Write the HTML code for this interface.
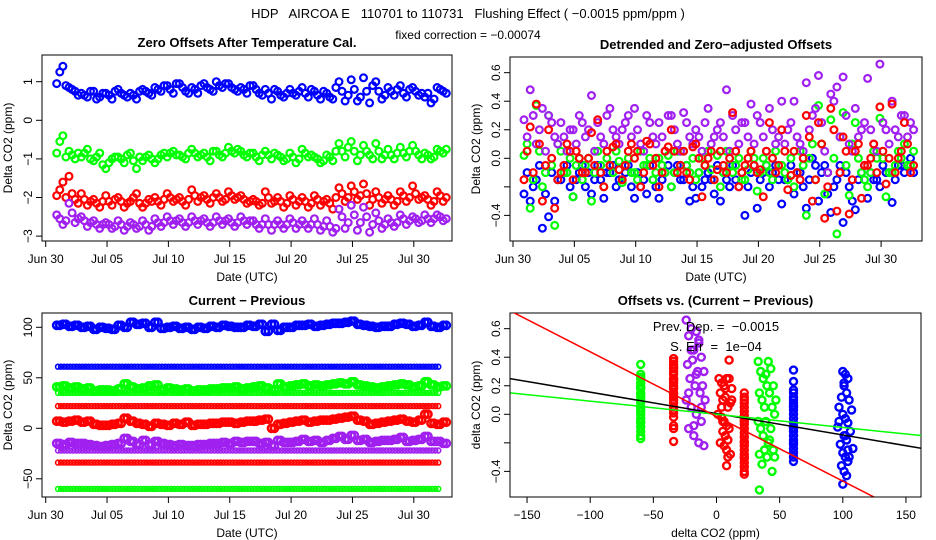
<!DOCTYPE html>
<html><head><meta charset="utf-8"><style>
html,body{margin:0;padding:0;background:#fff}
svg{display:block;font-family:"Liberation Sans",sans-serif}
</style></head><body>
<svg id="c" width="936" height="540" viewBox="0 0 936 540" xmlns="http://www.w3.org/2000/svg">
<text x="468" y="18" text-anchor="middle" font-size="13" style="white-space:pre">HDP   AIRCOA E   110701 to 110731   Flushing Effect ( −0.0015 ppm/ppm )</text>
<text x="468" y="39" text-anchor="middle" font-size="12">fixed correction = −0.00074</text>
</svg>
<script>
// ---- data: top-left (2 samples per day, days 1..32), plus a second pass ----
const blueTL=[0.95,1.40,0.85,0.75,0.70,0.60,0.75,0.60,0.70,0.55,0.80,0.65,0.70,0.55,0.80,0.70,0.85,0.75,0.90,0.70,0.95,0.75,0.85,0.70,0.95,0.80,1.00,0.85,0.95,0.80,0.85,0.70,0.90,0.70,0.80,0.55,0.75,0.60,0.80,0.65,0.85,0.60,0.75,0.55,0.70,0.55,1.00,0.50,1.05,0.50,1.10,0.45,1.00,0.55,0.85,0.65,0.90,0.60,0.85,0.65,0.60,0.45,0.85,0.75];
const blueTL2=[1.25,0.90,0.80,0.65,0.65,0.75,0.55,0.70,0.65,0.75,0.70,0.60,0.65,0.75,0.75,0.65,0.80,0.90,0.80,0.95,0.85,0.70,0.80,0.90,0.85,0.75,0.90,0.95,0.85,0.75,0.80,0.90,0.80,0.65,0.70,0.80,0.65,0.70,0.70,0.75,0.70,0.80,0.65,0.75,0.60,0.85,0.75,0.65,0.80,0.60,0.75,0.90,0.75,0.65,0.75,0.80,0.70,0.80,0.75,0.70,0.70,0.55,0.80,0.70];
const greenTL=[-0.85,-0.40,-0.80,-1.00,-0.95,-0.75,-1.05,-0.85,-1.25,-1.00,-0.95,-1.10,-0.85,-1.25,-1.05,-0.90,-1.10,-0.90,-0.95,-0.80,-0.90,-1.00,-0.75,-0.95,-0.85,-1.05,-0.80,-0.95,-0.70,-0.85,-0.80,-0.95,-0.85,-1.05,-0.80,-1.00,-0.90,-1.05,-0.85,-1.10,-0.75,-0.95,-0.95,-1.10,-0.90,-1.05,-0.60,-0.95,-0.55,-1.05,-0.65,-0.90,-0.60,-1.00,-0.75,-1.00,-0.70,-0.95,-0.65,-0.90,-0.85,-1.00,-0.75,-0.85];
const greenTL2=[-0.55,-0.95,-0.90,-0.85,-0.85,-1.00,-0.95,-1.15,-1.10,-0.95,-1.00,-0.90,-1.05,-0.95,-0.95,-1.00,-1.00,-0.85,-0.85,-0.90,-0.95,-0.85,-0.85,-0.90,-0.95,-0.80,-0.90,-0.85,-0.80,-0.75,-0.90,-0.85,-0.95,-0.90,-0.90,-0.85,-0.95,-1.00,-0.95,-1.00,-0.85,-0.90,-1.00,-1.05,-0.95,-0.80,-0.80,-0.70,-0.80,-0.90,-0.80,-1.00,-0.80,-0.90,-0.90,-0.85,-0.85,-0.80,-0.80,-1.00,-0.90,-0.95,-0.80,-0.75];
const redTL=[-1.95,-1.60,-1.45,-2.05,-1.90,-2.20,-2.05,-2.25,-1.95,-2.20,-2.00,-2.25,-2.10,-1.90,-2.25,-2.05,-2.00,-2.20,-1.90,-2.10,-2.00,-2.20,-1.80,-2.10,-1.95,-2.15,-1.90,-2.10,-1.85,-2.05,-1.95,-2.15,-2.05,-2.20,-1.85,-2.15,-2.00,-2.25,-1.95,-2.20,-2.00,-2.25,-1.95,-2.20,-2.05,-2.30,-1.75,-2.10,-1.70,-2.05,-1.65,-2.20,-1.85,-2.15,-1.95,-2.20,-1.85,-2.10,-1.70,-2.05,-1.95,-2.20,-1.85,-2.10];
const redTL2=[-1.80,-2.00,-1.90,-2.15,-2.05,-2.10,-2.15,-2.10,-2.10,-2.05,-2.10,-2.15,-2.00,-2.15,-2.15,-2.10,-2.10,-2.05,-2.00,-2.05,-2.10,-2.05,-1.95,-2.00,-2.05,-2.00,-2.00,-2.05,-1.95,-2.00,-2.05,-2.10,-2.10,-2.15,-2.00,-2.10,-2.10,-2.15,-2.05,-2.10,-2.10,-2.15,-2.05,-2.10,-2.15,-2.00,-1.90,-2.00,-1.85,-1.95,-1.90,-2.05,-2.00,-2.05,-2.05,-2.10,-1.95,-2.00,-1.90,-2.00,-2.05,-2.10,-1.95,-2.00];
const purpleTL=[-2.45,-2.70,-2.15,-2.65,-2.50,-2.75,-2.60,-2.80,-2.65,-2.80,-2.60,-2.85,-2.65,-2.80,-2.60,-2.85,-2.55,-2.75,-2.50,-2.70,-2.55,-2.75,-2.50,-2.70,-2.55,-2.75,-2.50,-2.70,-2.55,-2.75,-2.50,-2.70,-2.60,-2.80,-2.55,-2.85,-2.60,-2.80,-2.55,-2.80,-2.60,-2.80,-2.55,-2.85,-2.60,-2.90,-2.30,-2.80,-2.20,-2.85,-2.25,-2.90,-2.40,-2.80,-2.55,-2.75,-2.45,-2.70,-2.50,-2.65,-2.45,-2.65,-2.45,-2.60];
const purpleTL2=[-2.55,-2.60,-2.40,-2.55,-2.60,-2.65,-2.70,-2.70,-2.70,-2.75,-2.70,-2.75,-2.70,-2.75,-2.70,-2.75,-2.65,-2.65,-2.60,-2.60,-2.65,-2.65,-2.60,-2.60,-2.65,-2.65,-2.60,-2.60,-2.65,-2.65,-2.60,-2.60,-2.70,-2.70,-2.70,-2.70,-2.70,-2.70,-2.65,-2.70,-2.70,-2.70,-2.70,-2.75,-2.75,-2.80,-2.50,-2.65,-2.45,-2.65,-2.50,-2.70,-2.60,-2.70,-2.65,-2.65,-2.55,-2.60,-2.55,-2.60,-2.55,-2.55,-2.50,-2.55];
// ---- data: top-right residuals ----
const purpleTR=[0.27,0.48,0.10,0.35,0.30,0.15,0.25,0.05,0.20,0.30,0.15,0.44,0.25,0.10,0.35,0.15,0.20,0.30,0.35,0.10,0.30,0.15,0.25,0.05,0.30,0.10,0.32,0.15,0.20,0.05,0.35,0.15,0.25,0.48,0.30,0.10,0.25,0.38,0.30,0.15,0.35,0.10,0.40,0.20,0.40,0.10,0.53,0.30,0.58,0.05,0.45,0.50,0.57,0.10,0.35,0.20,0.56,0.10,0.66,0.20,0.40,0.15,0.30,0.25];
const purpleTR2=[0.15,0.30,0.20,0.05,0.25,0.10,0.15,0.20,0.10,0.25,0.20,0.05,0.15,0.30,0.20,0.10,0.25,0.15,0.20,0.05,0.25,0.10,0.15,0.30,0.20,0.05,0.25,0.10,0.15,0.25,0.10,0.20,0.15,0.05,0.20,0.25,0.15,0.10,0.25,0.05,0.20,0.15,0.10,0.25,0.15,0.05,0.20,0.35,0.25,-0.10,0.40,0.15,0.30,0.05,0.15,0.25,0.20,0.05,0.25,0.10,0.20,0.30,0.15,0.20];
const redTR=[-0.15,0.22,0.38,-0.30,0.20,-0.35,-0.10,0.10,-0.15,0.00,-0.10,0.18,0.27,-0.20,-0.05,0.10,-0.15,0.05,0.00,-0.20,0.12,-0.05,-0.20,0.05,0.20,-0.10,0.05,-0.15,0.10,-0.27,0.00,-0.15,0.05,-0.10,0.32,-0.20,-0.05,0.05,-0.10,-0.27,0.25,-0.10,0.20,-0.22,0.05,-0.15,0.30,-0.30,0.25,-0.42,0.35,-0.37,0.15,-0.39,0.05,-0.28,-0.05,0.10,0.36,-0.18,0.38,0.00,0.25,-0.10];
const redTR2=[0.05,-0.10,0.10,-0.05,0.00,-0.15,-0.05,0.05,0.05,-0.10,0.00,-0.05,-0.10,0.05,0.08,-0.08,-0.05,0.10,0.05,-0.10,0.10,0.00,-0.10,0.08,0.05,-0.05,-0.10,0.08,0.00,-0.05,0.05,-0.08,-0.05,0.00,0.05,-0.10,0.00,-0.05,-0.08,0.05,0.00,-0.05,0.05,-0.12,-0.10,0.00,0.15,-0.15,0.10,-0.20,0.20,-0.10,0.05,-0.15,0.10,-0.05,0.00,-0.10,0.05,0.00,-0.10,0.05,0.10,-0.05];
const greenTR=[0.02,-0.35,0.37,-0.20,0.30,-0.47,0.05,-0.10,-0.27,0.00,-0.05,-0.30,0.05,-0.20,-0.05,0.05,-0.17,0.00,-0.10,0.05,-0.05,-0.15,0.00,-0.10,-0.20,0.05,0.05,-0.10,-0.15,0.00,0.05,-0.15,-0.20,0.05,-0.10,0.00,-0.15,0.05,-0.23,0.00,-0.10,0.05,-0.05,-0.15,-0.20,0.05,-0.40,0.10,0.37,-0.25,0.27,-0.53,0.32,-0.26,0.25,-0.10,-0.20,0.05,0.28,-0.27,-0.10,0.05,0.10,-0.05];
const greenTR2=[0.10,-0.15,0.05,-0.10,-0.05,0.10,-0.10,0.00,-0.05,-0.15,0.00,-0.10,-0.05,0.00,-0.10,-0.02,-0.05,-0.10,-0.15,-0.05,0.00,-0.10,-0.05,0.02,-0.10,-0.05,-0.05,0.00,-0.10,-0.05,-0.08,0.02,-0.10,-0.05,-0.05,-0.15,-0.08,0.00,-0.10,-0.05,-0.15,-0.05,-0.10,0.00,-0.10,-0.05,0.00,-0.15,0.10,-0.10,0.00,0.15,-0.05,0.10,0.00,-0.15,-0.10,0.00,0.00,-0.10,-0.05,0.00,-0.05,0.05];
const blueTR=[-0.25,-0.30,-0.15,-0.49,-0.41,-0.30,-0.15,-0.05,-0.27,-0.10,-0.20,-0.25,-0.05,-0.28,-0.10,-0.20,-0.15,-0.05,-0.28,-0.20,-0.25,-0.15,-0.28,-0.10,-0.20,-0.05,-0.15,-0.30,-0.28,-0.20,-0.10,-0.25,-0.30,-0.15,-0.05,-0.20,-0.40,-0.10,-0.35,-0.10,-0.20,-0.05,-0.32,-0.15,-0.25,-0.10,-0.35,0.00,-0.30,-0.05,-0.38,-0.15,-0.45,-0.20,-0.36,-0.10,-0.28,-0.15,-0.20,-0.10,-0.31,-0.05,-0.10,0.00];
const blueTR2=[-0.10,-0.20,-0.05,-0.25,-0.10,-0.15,-0.10,-0.20,-0.15,-0.05,-0.10,-0.15,-0.15,-0.10,-0.05,-0.15,-0.10,-0.20,-0.10,-0.15,-0.05,-0.20,-0.15,-0.05,-0.10,-0.15,-0.05,-0.20,-0.10,-0.15,-0.15,-0.05,-0.10,-0.20,-0.15,-0.10,-0.20,-0.05,-0.15,-0.05,-0.10,-0.15,-0.15,-0.05,-0.10,-0.20,-0.15,-0.05,-0.10,-0.25,-0.20,-0.05,-0.10,-0.30,-0.15,-0.05,-0.10,-0.15,-0.05,-0.10,-0.15,-0.05,-0.05,-0.10];
// ---- data: bottom-left current-previous ----
const blueBL=[102,103,101,102,100,101,98,100,99,98,102,100,105,103,104,100,105,99,100,101,99,100,98,100,99,101,100,102,101,100,100,102,101,103,96,103,97,100,100,102,102,103,101,102,103,104,104,105,106,103,102,101,100,101,101,103,104,103,101,102,105,101,100,102];
const greenBL=[41,42,40,41,39,40,37,38,38,37,39,44,41,39,40,42,43,38,40,39,38,39,37,38,38,39,39,40,40,41,39,40,41,42,40,38,44,41,42,43,44,42,43,42,43,44,45,44,46,43,42,41,40,41,42,43,44,43,41,42,46,43,41,42];
const redBL=[7,6,7,8,6,7,4,3,3,4,5,10,7,5,4,2,5,4,3,5,4,6,3,4,4,5,5,6,6,5,6,7,7,8,9,0,4,5,6,7,8,6,7,8,8,9,10,11,12,8,7,4,5,6,7,8,9,7,6,8,14,5,4,6];
const purpleBL=[-15,-16,-14,-15,-15,-16,-17,-18,-17,-16,-15,-10,-13,-16,-12,-16,-13,-15,-16,-17,-16,-17,-17,-16,-16,-15,-15,-14,-15,-13,-14,-13,-13,-15,-14,-17,-12,-14,-14,-13,-11,-13,-12,-14,-12,-10,-8,-11,-7,-12,-11,-14,-13,-12,-12,-11,-9,-13,-12,-11,-8,-13,-13,-15];
const flatLevels=[61,35,22,-22,-34,-60];
const flatColors=["#0000ff","#00ff00","#ff0000","#a020f0","#ff0000","#00ff00"];
// ---- data: bottom-right clusters ----
const greenA_y=[0.35,0.28,0.25,0.22,0.20,0.18,0.15,0.12,0.10,0.08,0.05,0.03,0.00,-0.03,-0.06,-0.09,-0.12,-0.15,-0.17,0.26,0.14,0.02,-0.05,0.19];
const redA_y=[0.39,0.37,0.35,0.32,0.30,0.28,0.25,0.22,0.20,0.18,0.15,0.12,0.10,0.08,0.05,0.03,0.01,-0.02,-0.08,-0.10,-0.19,0.33,0.24,0.14];
const purple_x=[-24,-22,-20,-18,-16,-14,-12,-10,-23,-19,-15,-11,-21,-17,-13,-9,-24,-20,-16,-12,-22,-18,-14,-10,-20,-16,-12,-18,-14,-22];
const purple_y=[0.66,0.55,0.60,0.45,0.58,0.50,0.40,0.30,0.35,0.38,0.30,0.20,0.25,0.20,0.15,0.10,0.10,0.05,0.00,-0.05,-0.10,-0.15,-0.20,-0.22,0.45,0.28,0.05,-0.08,0.52,0.15];
const redB_x=[2,4,6,8,10,12,3,5,7,9,11,1,4,6,8,10,5,7,9,3,6,8,11,4,7,9,12,5,8,10];
const redB_y=[0.25,0.22,0.20,0.25,0.25,0.18,0.15,0.10,0.12,0.05,0.08,0.00,-0.02,-0.05,-0.08,-0.10,-0.12,-0.15,-0.18,-0.20,-0.22,-0.25,-0.28,0.05,0.18,-0.30,0.10,-0.05,-0.36,0.38];
const redC_y=[0.15,0.12,0.08,0.05,0.02,-0.01,-0.04,-0.07,-0.10,-0.13,-0.16,-0.19,-0.22,-0.25,-0.28,-0.31,-0.34,-0.37,-0.40,-0.42,0.10,-0.05,-0.20,-0.30];
const greenB_x=[33,35,37,39,41,43,45,47,34,36,38,40,42,44,46,33,35,37,39,41,43,45,34,38,42,46,36,40,44,34];
const greenB_y=[0.37,0.30,0.25,0.28,0.37,0.32,0.20,0.10,0.15,0.10,0.05,0.20,0.15,0.05,0.00,-0.05,-0.10,-0.15,-0.05,-0.20,-0.10,-0.25,-0.28,-0.25,-0.18,-0.30,-0.35,-0.30,-0.40,-0.53];
const blueA_y=[0.31,0.23,0.17,0.15,0.12,0.10,0.08,0.05,0.03,0.00,-0.03,-0.06,-0.09,-0.12,-0.15,-0.18,-0.21,-0.24,-0.27,-0.30,-0.33,0.06,-0.10,-0.20];
const blueB_x=[100,102,104,101,103,99,105,97,107,100,102,104,96,106,101,103,98,108,100,102,104,99,101,103,105,97,102,100,101,104];
const blueB_y=[0.30,0.28,0.25,0.20,0.15,0.12,0.10,0.05,0.03,0.00,-0.03,-0.06,-0.09,-0.12,-0.15,-0.18,-0.21,-0.24,-0.27,-0.30,-0.33,-0.36,-0.40,-0.43,-0.30,-0.05,-0.15,-0.49,0.22,-0.25];
const fitIntercepts=[0.005,0.0,-0.015];
const fitSlopes=[-0.0015,-0.00092,-0.00453];
const fitColors=["#000000","#00ff00","#ff0000"];
const dateTicks=["Jun 30","Jul 05","Jul 10","Jul 15","Jul 20","Jul 25","Jul 30"];

const NS="http://www.w3.org/2000/svg";
const svg=document.getElementById('c');
function mk(tag,attrs,parent){const e=document.createElementNS(NS,tag);for(const k in attrs)e.setAttribute(k,attrs[k]);(parent||svg).appendChild(e);return e;}
function txt(s,attrs,parent){const e=mk('text',attrs,parent);e.textContent=s;return e;}

function panel(name,box,title,xlab,ylab){
  const g=mk('g',{});
  
  
  const r=mk('rect',{x:box.x0,y:box.y0,width:box.x1-box.x0,height:box.y1-box.y0,fill:'none',stroke:'#000','stroke-width':1},g);
  
  
  const t=txt(title,{x:(box.x0+box.x1)/2,y:box.y0-8,'text-anchor':'middle','font-size':13,'font-weight':'bold'},g);
  
  
  const xl=txt(xlab,{x:(box.x0+box.x1)/2,y:box.y1+40,'text-anchor':'middle','font-size':12},g);
  
  
  const cy=(box.y0+box.y1)/2;
  const yl=txt(ylab,{x:0,y:0,'text-anchor':'middle','font-size':12,transform:`translate(${box.x0-30},${cy}) rotate(-90)`},g);
  
  
  const clip=mk('clipPath',{id:name+'-clip'},g);
  mk('rect',{x:box.x0,y:box.y0,width:box.x1-box.x0,height:box.y1-box.y0},clip);
  const pts=mk('g',{'clip-path':`url(#${name}-clip)`},g);
  
  
  return {g,pts,box};
}
function xTicks(P,vals,labels,fx){
  const gg=mk('g',{},P.g);
  
  
  const y=P.box.y1;
  mk('line',{x1:fx(vals[0]),x2:fx(vals[vals.length-1]),y1:y,y2:y,stroke:'#000'},gg);
  vals.forEach((v,i)=>{const x=fx(v);mk('line',{x1:x,x2:x,y1:y,y2:y+6,stroke:'#000'},gg);
    const l=txt(labels[i],{x:x,y:y+22,'text-anchor':'middle','font-size':12},gg);
    
    });
}
function yTicks(P,vals,labels,fy){
  const gg=mk('g',{},P.g);
  
  
  const x=P.box.x0;
  mk('line',{x1:x,x2:x,y1:fy(vals[0]),y2:fy(vals[vals.length-1]),stroke:'#000'},gg);
  vals.forEach((v,i)=>{const y=fy(v);mk('line',{x1:x-6,x2:x,y1:y,y2:y,stroke:'#000'},gg);
    if(labels[i]!==''){const l=txt(labels[i],{x:0,y:0,'text-anchor':'middle','font-size':12,transform:`translate(${x-10},${y}) rotate(-90)`},gg);
    
    }});
}
function dot(parent,x,y,col,r,sw){const c=mk('circle',{cx:x.toFixed(1),cy:y.toFixed(1),r:r||3.4,fill:'none',stroke:col,'stroke-width':sw||2.2},parent);
  
  }
function series(P,name,vals,col,fx,fy,off,r,sw){
  const gg=mk('g',{},P.pts);
  
  
  vals.forEach((v,i)=>{const t=0.9+(off||0)+i*0.5;dot(gg,fx(t),fy(v),col,r,sw);});
}
const dayTicks=[0,5,10,15,20,25,30];

// Top-left
const TL=panel('zero-offsets-panel',{x0:42,y0:55,x1:452,y1:241},'Zero Offsets After Temperature Cal.','Date (UTC)','Delta CO2 (ppm)');
const fxL=t=>45.7+t*12.27, fyTL=v=>120.3-v*38.6;
series(TL,'blue-series',blueTL,'#0000ff',fxL,fyTL);
series(TL,'blue-series-b',blueTL2,'#0000ff',fxL,fyTL,0.25);
series(TL,'green-series',greenTL,'#00ff00',fxL,fyTL);
series(TL,'green-series-b',greenTL2,'#00ff00',fxL,fyTL,0.25);
series(TL,'red-series',redTL,'#ff0000',fxL,fyTL);
series(TL,'red-series-b',redTL2,'#ff0000',fxL,fyTL,0.25);
series(TL,'purple-series',purpleTL,'#a020f0',fxL,fyTL);
series(TL,'purple-series-b',purpleTL2,'#a020f0',fxL,fyTL,0.25);
xTicks(TL,dayTicks,dateTicks,fxL);
yTicks(TL,[-3,-2,-1,0,1],['−3','−2','−1','0','1'],fyTL);

// Top-right
const TR=panel('detrended-panel',{x0:510,y0:57,x1:922,y1:241},'Detrended and Zero−adjusted Offsets','Date (UTC)','Delta CO2 (ppm)');
const fxR=t=>513+t*12.27, fyTR=v=>158.3-v*142.7;
series(TR,'blue-residuals',blueTR,'#0000ff',fxR,fyTR);
series(TR,'blue-residuals-b',blueTR2,'#0000ff',fxR,fyTR,0.25);
series(TR,'green-residuals',greenTR,'#00ff00',fxR,fyTR);
series(TR,'green-residuals-b',greenTR2,'#00ff00',fxR,fyTR,0.25);
series(TR,'purple-residuals',purpleTR,'#a020f0',fxR,fyTR);
series(TR,'purple-residuals-b',purpleTR2,'#a020f0',fxR,fyTR,0.25);
series(TR,'red-residuals',redTR,'#ff0000',fxR,fyTR);
series(TR,'red-residuals-b',redTR2,'#ff0000',fxR,fyTR,0.25);
xTicks(TR,dayTicks,dateTicks,fxR);
yTicks(TR,[-0.4,-0.2,0,0.2,0.4,0.6],['−0.4','','0.0','0.2','0.4','0.6'],fyTR);

// Bottom-left
const BL=panel('current-previous-panel',{x0:42,y0:313,x1:452,y1:497},'Current − Previous','Date (UTC)','Delta CO2 (ppm)');
const fyBL=v=>428.3-v*1.01;
flatLevels.forEach((lv,j)=>{
  const gg=mk('g',{},BL.pts);
  
  
  for(let t=1.0;t<=32.1;t+=0.25)dot(gg,fxL(t),fyBL(lv),flatColors[j],2.4,1.6);
});
series(BL,'blue-diff',blueBL,'#0000ff',fxL,fyBL,0,3.6,2.6);
series(BL,'blue-diff-b',blueBL,'#0000ff',fxL,fyBL,0.25,3.6,2.6);
series(BL,'green-diff',greenBL,'#00ff00',fxL,fyBL,0,3.6,2.6);
series(BL,'green-diff-b',greenBL,'#00ff00',fxL,fyBL,0.25,3.6,2.6);
series(BL,'red-diff',redBL,'#ff0000',fxL,fyBL,0,3.6,2.6);
series(BL,'red-diff-b',redBL,'#ff0000',fxL,fyBL,0.25,3.6,2.6);
series(BL,'purple-diff',purpleBL,'#a020f0',fxL,fyBL,0,3.6,2.6);
series(BL,'purple-diff-b',purpleBL,'#a020f0',fxL,fyBL,0.25,3.6,2.6);
xTicks(BL,dayTicks,dateTicks,fxL);
yTicks(BL,[-50,0,50,100],['−50','0','50','100'],fyBL);

// Bottom-right
const BR=panel('offsets-vs-diff-panel',{x0:510,y0:313,x1:921,y1:497},'Offsets vs. (Current − Previous)','delta CO2 (ppm)','delta CO2 (ppm)');
const fxBR=v=>716.5+v*1.263, fyBR=v=>414.3-v*142.7;
function cluster(name,xs,ys,col){
  const gg=mk('g',{},BR.pts);
  
  
  ys.forEach((y,i)=>dot(gg,fxBR(Array.isArray(xs)?xs[i]:xs),fyBR(y),col,3.5,2.4));
}
cluster('green-cluster-neg60',-60,greenA_y,'#00ff00');
cluster('red-cluster-neg34',-34,redA_y,'#ff0000');
cluster('purple-cluster',purple_x,purple_y,'#a020f0');
cluster('red-cluster-5',redB_x,redB_y,'#ff0000');
cluster('red-cluster-22',22,redC_y,'#ff0000');
cluster('green-cluster-40',greenB_x,greenB_y,'#00ff00');
cluster('blue-cluster-61',61,blueA_y,'#0000ff');
cluster('blue-cluster-102',blueB_x,blueB_y,'#0000ff');
fitSlopes.forEach((b,i)=>{
  const a=fitIntercepts[i];const x0=-170,x1=170;
  const l=mk('line',{x1:fxBR(x0),y1:fyBR(a+b*x0),x2:fxBR(x1),y2:fyBR(a+b*x1),stroke:fitColors[i],'stroke-width':1.5},BR.pts);
  
  
});
const a1=txt('Prev. Dep. =  −0.0015',{x:716,y:331,'text-anchor':'middle','font-size':13,style:'white-space:pre'},BR.g);


const a2=txt('S. Err  =  1e−04',{x:716,y:351,'text-anchor':'middle','font-size':13,style:'white-space:pre'},BR.g);


xTicks(BR,[-150,-100,-50,0,50,100,150],['−150','−100','−50','0','50','100','150'],fxBR);
yTicks(BR,[-0.4,-0.2,0,0.2,0.4,0.6],['−0.4','','0.0','0.2','0.4','0.6'],fyBR);
</script>
</body></html>
